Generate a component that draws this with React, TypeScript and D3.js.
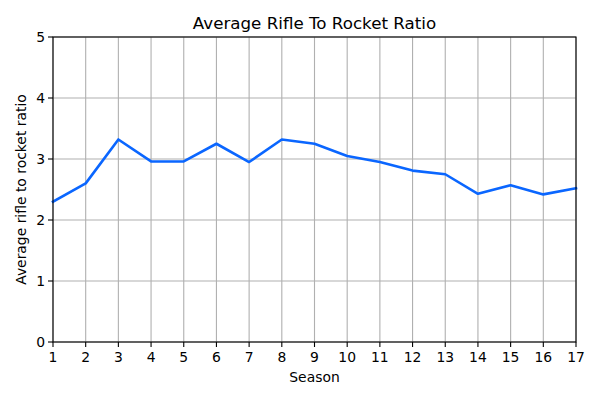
import React from "react";
import * as d3 from "d3";

const seasons = [1, 2, 3, 4, 5, 6, 7, 8, 9, 10, 11, 12, 13, 14, 15, 16, 17];
const ratios = [2.3, 2.6, 3.32, 2.96, 2.96, 3.25, 2.95, 3.32, 3.25, 3.05, 2.95, 2.81, 2.75, 2.43, 2.57, 2.42, 2.52];
const yTicks = [0, 1, 2, 3, 4, 5];
const title = "Average Rifle To Rocket Ratio";
const xLabel = "Season";
const yLabel = "Average rifle to rocket ratio";

const W = 600, H = 400;
const m = { left: 53, right: 24, top: 37, bottom: 58 };
const font = "DejaVu Sans, sans-serif";

export default function App() {
  const x = d3.scaleLinear().domain([1, 17]).range([m.left, W - m.right]);
  const y = d3.scaleLinear().domain([0, 5]).range([H - m.bottom, m.top]);
  const line = d3.line<number>().x((_, i) => x(seasons[i])).y((d) => y(d));
  const x0 = m.left, x1 = W - m.right, y0 = H - m.bottom, y1 = m.top;
  return (
    <svg width={W} height={H} style={{ position: "absolute", left: 0, top: 0, background: "#fff" }} fontFamily={font}>
      <rect x={0} y={0} width={W} height={H} fill="#fff" />
      {seasons.map((s) => (
        <line key={"gx" + s} x1={x(s)} x2={x(s)} y1={y0} y2={y1} stroke="#b0b0b0" strokeWidth={1.1} />
      ))}
      {yTicks.map((t) => (
        <line key={"gy" + t} x1={x0} x2={x1} y1={y(t)} y2={y(t)} stroke="#b0b0b0" strokeWidth={1.1} />
      ))}
      <path d={line(ratios) || ""} fill="none" stroke="#0a66ff" strokeWidth={2.6} strokeLinejoin="round" strokeLinecap="square" />
      <rect x={x0} y={y1} width={x1 - x0} height={y0 - y1} fill="none" stroke="#000" strokeWidth={1.1} />
      {seasons.map((s) => (
        <g key={"tx" + s}>
          <line x1={x(s)} x2={x(s)} y1={y0} y2={y0 + 5} stroke="#000" strokeWidth={1.1} />
          <text x={x(s)} y={y0 + 20} textAnchor="middle" fontSize={13.9} fill="#000">{s}</text>
        </g>
      ))}
      {yTicks.map((t) => (
        <g key={"ty" + t}>
          <line x1={x0 - 5} x2={x0} y1={y(t)} y2={y(t)} stroke="#000" strokeWidth={1.1} />
          <text x={x0 - 8} y={y(t) + 5} textAnchor="end" fontSize={13.9} fill="#000">{t}</text>
        </g>
      ))}
      <text x={(x0 + x1) / 2} y={29} textAnchor="middle" fontSize={16.7} fill="#000">{title}</text>
      <text x={(x0 + x1) / 2} y={382} textAnchor="middle" fontSize={13.9} fill="#000">{xLabel}</text>
      <text transform={`translate(26,${(y0 + y1) / 2}) rotate(-90)`} textAnchor="middle" fontSize={13.9} fill="#000">{yLabel}</text>
    </svg>
  );
}
